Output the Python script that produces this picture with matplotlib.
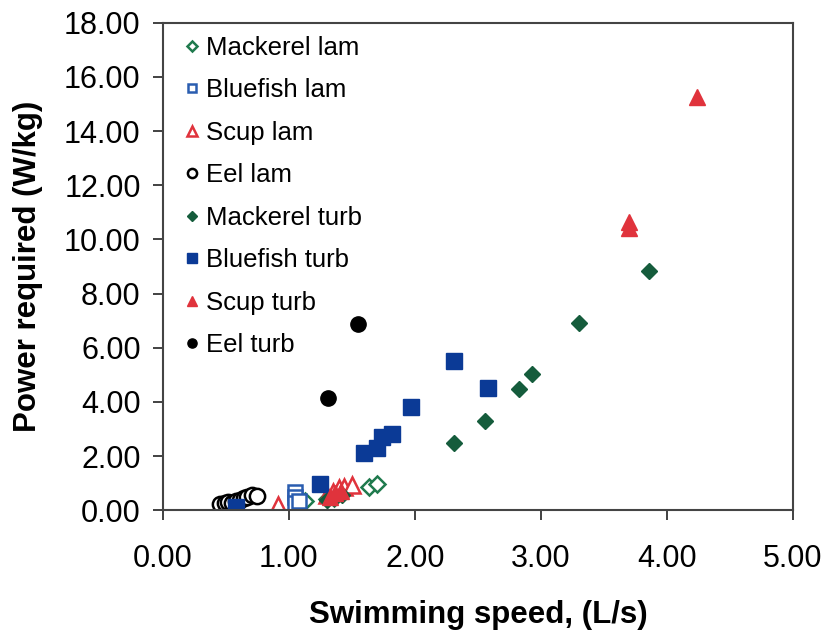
import matplotlib.pyplot as plt
from matplotlib.ticker import FormatStrFormatter

plt.rcParams['font.family'] = ['Liberation Sans', 'DejaVu Sans']

# laminar
mack_lam_x = [1.13, 1.30, 1.36, 1.64, 1.70]
mack_lam_y = [0.33, 0.40, 0.45, 0.86, 0.96]
blue_lam_x = [1.05, 1.05, 1.05, 1.08]
blue_lam_y = [0.68, 0.47, 0.27, 0.35]
scup_lam_x = [0.91, 1.30, 1.35, 1.40, 1.44, 1.50]
scup_lam_y = [0.18, 0.55, 0.68, 0.81, 0.86, 0.92]
eel_lam_x = [0.45, 0.49, 0.52, 0.55, 0.58, 0.61, 0.64, 0.67, 0.71, 0.75]
eel_lam_y = [0.22, 0.26, 0.30, 0.28, 0.35, 0.38, 0.45, 0.50, 0.55, 0.52]

# turbulent
mack_turb_x = [1.30, 1.36, 1.42, 2.31, 2.56, 2.83, 2.93, 3.30, 3.86]
mack_turb_y = [0.38, 0.45, 0.55, 2.49, 3.30, 4.46, 5.03, 6.92, 8.84]
blue_turb_x = [0.58, 1.25, 1.60, 1.70, 1.74, 1.82, 1.97, 2.31, 2.58]
blue_turb_y = [0.10, 0.96, 2.12, 2.28, 2.71, 2.80, 3.80, 5.52, 4.53]
scup_turb_x = [1.33, 1.37, 1.41, 3.70, 3.70, 4.24]
scup_turb_y = [0.50, 0.62, 0.72, 10.41, 10.65, 15.25]
eel_turb_x = [1.31, 1.55]
eel_turb_y = [4.16, 6.87]

green = '#1f7a4d'
dgreen = '#155c3c'
blue = '#2a5db0'
dblue = '#0b3a96'
red = '#e0333c'

fig = plt.figure(figsize=(8.31, 6.33), dpi=100)
ax = fig.add_axes([0.196, 0.194, 0.758, 0.770])

ax.plot(mack_lam_x, mack_lam_y, 'D', ms=8, mfc='white', mec=green, mew=1.8, ls='none', label='Mackerel lam')
ax.plot(blue_lam_x, blue_lam_y, 's', ms=10, mfc='white', mec=blue, mew=1.8, ls='none', label='Bluefish lam')
ax.plot(scup_lam_x, scup_lam_y, '^', ms=11, mfc='white', mec=red, mew=1.8, ls='none', label='Scup lam')
ax.plot(eel_lam_x, eel_lam_y, 'o', ms=11, mfc='white', mec='black', mew=1.8, ls='none', label='Eel lam')
ax.plot(mack_turb_x, mack_turb_y, 'D', ms=8, mfc=dgreen, mec=dgreen, ls='none', label='Mackerel turb')
ax.plot(blue_turb_x, blue_turb_y, 's', ms=11, mfc=dblue, mec=dblue, ls='none', label='Bluefish turb')
ax.plot(scup_turb_x, scup_turb_y, '^', ms=11, mfc=red, mec=red, ls='none', label='Scup turb')
ax.plot(eel_turb_x, eel_turb_y, 'o', ms=11, mfc='black', mec='black', ls='none', label='Eel turb')

ax.set_xlim(0, 5)
ax.set_ylim(0, 18)
ax.set_xticks([0, 1, 2, 3, 4, 5])
ax.set_yticks(range(0, 19, 2))
ax.xaxis.set_major_formatter(FormatStrFormatter('%.2f'))
ax.yaxis.set_major_formatter(FormatStrFormatter('%.2f'))
ax.tick_params(labelsize=22, length=7, width=1.3, direction='out', color='#333333')
ax.tick_params(axis='x', pad=17)
ax.tick_params(axis='y', pad=9)
for s in ax.spines.values():
    s.set_linewidth(1.5)
    s.set_color('#444444')

ax.set_xlabel('Swimming speed, (L/s)', fontsize=22.5, fontweight='bold', labelpad=19)
ax.set_ylabel('Power required (W/kg)', fontsize=22.5, fontweight='bold', labelpad=15)

ax.legend(loc='upper left', frameon=False, fontsize=18.5, markerscale=0.6,
          handlelength=0.6, handletextpad=0.25, labelspacing=0.72,
          borderaxespad=0.3, bbox_to_anchor=(0.005, 1.01))

fig.savefig('out.png', dpi=100)
